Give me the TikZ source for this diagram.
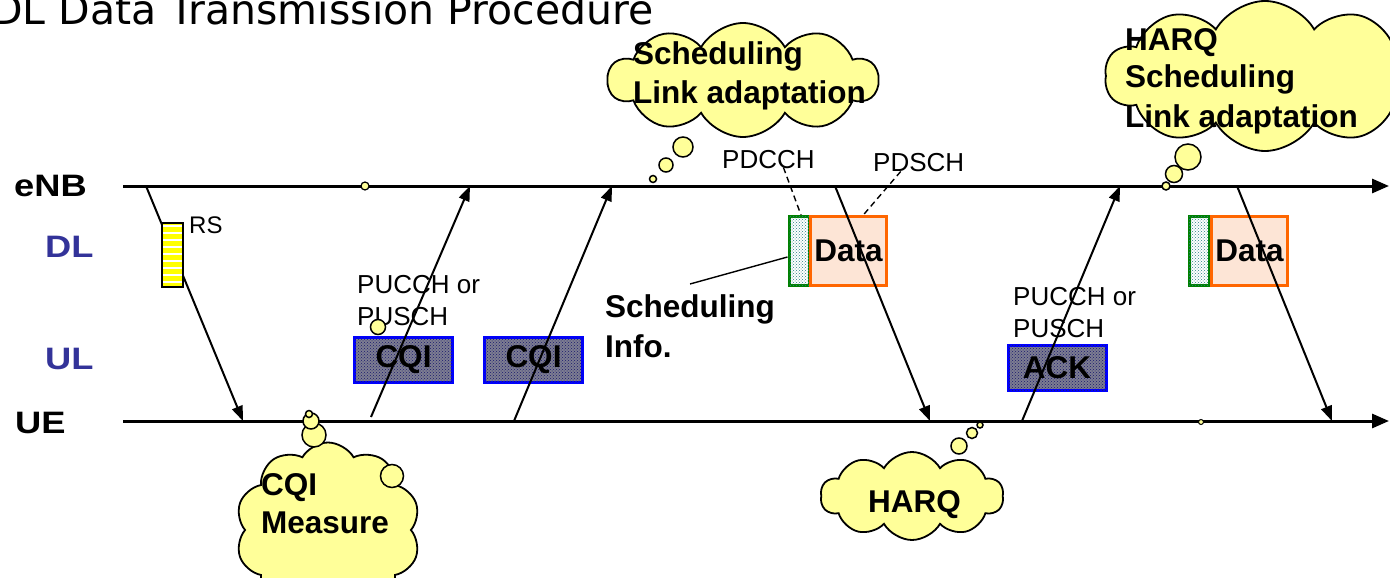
\documentclass[tikz,border=0pt]{standalone}
\usepackage{fontspec}
\setmainfont{Liberation Sans}
\newfontfamily\titlefont{DejaVu Sans}
\usetikzlibrary{arrows.meta,shapes.symbols,patterns}

\definecolor{thought}{RGB}{255,255,153}
\definecolor{chanblue}{RGB}{51,51,153}
\definecolor{cqiborder}{RGB}{0,0,255}
\definecolor{cqifill}{RGB}{125,125,145}
\definecolor{cqidot}{RGB}{25,25,110}
\definecolor{ctrlgreen}{RGB}{0,128,0}
\definecolor{ctrldot}{RGB}{40,130,130}
\definecolor{dataorange}{RGB}{255,102,0}
\definecolor{datafill}{RGB}{253,229,214}
\definecolor{rsyellow}{RGB}{255,255,0}

\begin{document}
\begin{tikzpicture}[x=1pt,y=-1pt,
  timeline/.style={line width=3pt,-{Triangle[length=17pt,width=14pt]}},
  msg/.style={line width=2pt,-{Triangle[length=15pt,width=11pt]}},
  pointer/.style={line width=1.4pt},
  dashedptr/.style={line width=1.4pt,dash pattern=on 6pt off 4pt},
  lbl/.style={font=\fontsize{26}{30}\selectfont,inner sep=0pt,anchor=base west},
  blbl/.style={font=\bfseries\fontsize{31.5}{38}\selectfont,inner sep=0pt,anchor=base west},
  side/.style={font=\bfseries\fontsize{31}{34}\selectfont,inner sep=0pt,anchor=base west},
  titletext/.style={font=\titlefont\fontsize{41}{48}\selectfont,inner sep=0pt,anchor=base west},
  boxtext/.style={font=\bfseries\fontsize{31.5}{36}\selectfont,inner sep=0pt},
  cqibox/.style={boxtext,draw=cqiborder,line width=3pt,fill=cqifill,
    postaction={pattern=crosshatch dots,pattern color=cqidot},
    minimum width=98pt,minimum height=45pt},
  ctrlbox/.style={draw=ctrlgreen,line width=3pt,fill=white,
    postaction={pattern=crosshatch dots,pattern color=ctrldot},
    minimum width=20pt,minimum height=69pt,inner sep=0pt},
  databox/.style={boxtext,draw=dataorange,line width=3.5pt,fill=datafill,
    minimum width=76pt,minimum height=69pt},
  rsbox/.style={draw=black,line width=1.5pt,fill=rsyellow,minimum width=21pt,
    minimum height=64pt,inner sep=0pt,
    path picture={\foreach \k in {0,...,8}{
      \draw[white,line width=2.6pt]
        ([yshift=-3pt-7*\k pt]path picture bounding box.north west) --
        ([yshift=-3pt-7*\k pt]path picture bounding box.north east);}}},
  thoughtcloud/.style={cloud,cloud puffs=10,cloud puff arc=120,cloud ignores aspect,
    draw=black,line width=1.8pt,fill=thought,inner sep=0pt},
  bubble/.style={circle,draw=black,line width=1.5pt,fill=thought,inner sep=0pt}
]
\clip (0,0) rectangle (1390,578);

% heading
\node[titletext] (title) at (-9,25) {DL Data Transmission Procedure};

% eNB and UE time lines
\coordinate (enbL) at (123,186); \coordinate (enbR) at (1389,186);
\coordinate (ueL) at (123,421);  \coordinate (ueR) at (1389,421);
\draw[timeline] (enbL) -- (enbR);
\draw[timeline] (ueL) -- (ueR);

% side labels
\node[side] (enb) at (14,196) {\scalebox{1.17}[1]{eNB}};
\node[side,text=chanblue] (dl) at (45,257) {\scalebox{1.17}[1]{DL}};
\node[side,text=chanblue] (ul) at (45,369) {\scalebox{1.17}[1]{UL}};
\node[side] (ue) at (15,433) {\scalebox{1.17}[1]{UE}};

% reference signal
\coordinate (rsTx) at (146,186); \coordinate (rsRx) at (243,421);
\draw[msg] (rsTx) -- (rsRx);
\node[rsbox] (rs) at (172.5,255) {};
\node[lbl,font=\fontsize{24}{28}\selectfont] (rslbl) at (189,233) {RS};

% uplink and downlink blocks
\node[cqibox] (cqiA) at (403.5,360) {CQI};
\node[cqibox] (cqiB) at (533.5,360) {CQI};
\node[cqibox] (ack) at (1057,368) {ACK};
\node[ctrlbox] (ctrlA) at (799,251) {};
\node[databox] (dataA) at (848.5,251) {Data};
\node[ctrlbox] (ctrlB) at (1199,251) {};
\node[databox] (dataB) at (1249.5,251) {Data};

% channel labels
\node[lbl] (pucA1) at (357,293) {PUCCH or};
\node[lbl] (pucA2) at (357,325) {PUSCH};
\node[lbl] (pucB1) at (1013,305) {PUCCH or};
\node[lbl] (pucB2) at (1013,337) {PUSCH};
\node[lbl] (pdcch) at (722,168) {PDCCH};
\node[lbl] (pdsch) at (873,171) {PDSCH};
\node[blbl] (schedA) at (605,317) {Scheduling};
\node[blbl] (schedB) at (605,357) {Info.};

\draw[dashedptr] ([xshift=15pt,yshift=1pt]pdcch.south) -- ([xshift=2pt]ctrlA.north);
\draw[dashedptr] ([xshift=-18pt]pdsch.south) -- ([xshift=15pt]dataA.north);
\draw[pointer] ([yshift=10pt]schedA.north) -- ([yshift=-6pt]ctrlA.west);

% messages
\coordinate (cqiTxA) at (371,417); \coordinate (cqiRxA) at (470,186);
\coordinate (cqiTxB) at (514,421); \coordinate (cqiRxB) at (612,186);
\coordinate (datTxA) at (835,186); \coordinate (datRxA) at (930,421);
\coordinate (ackTx) at (1022,421); \coordinate (ackRx) at (1120,186);
\coordinate (datTxB) at (1237,186); \coordinate (datRxB) at (1332,421);
\draw[msg] (cqiTxA) -- (cqiRxA);
\draw[msg] (cqiTxB) -- (cqiRxB);
\draw[msg] (datTxA) -- (datRxA);
\draw[msg] (ackTx) -- (ackRx);
\draw[msg] (datTxB) -- (datRxB);

% thought clouds
\node[thoughtcloud,minimum width=270pt,minimum height=114pt] (cloudSched) at (743,80) {};
\node[bubble,minimum size=20pt] (bSchedA) at (683,147) {};
\node[bubble,minimum size=14pt] (bSchedB) at (666,165) {};
\node[bubble,minimum size=7pt] (bSchedC) at (653,179) {};
\node[blbl] (tSchedA) at (633,65) {Scheduling};
\node[blbl] (tSchedB) at (633,103) {Link adaptation};

\node[thoughtcloud,minimum width=320pt,minimum height=150pt] (cloudHarqSched) at (1265,76) {};
\node[bubble,minimum size=26pt] (bHarqSchedA) at (1188,157) {};
\node[bubble,minimum size=17pt] (bHarqSchedB) at (1174,174) {};
\node[bubble,minimum size=8pt] (bHarqSchedC) at (1166,186) {};
\node[blbl] (tHarqSchedA) at (1125,51) {HARQ};
\node[blbl] (tHarqSchedB) at (1125,88) {Scheduling};
\node[blbl] (tHarqSchedC) at (1125,127) {Link adaptation};

\node[thoughtcloud,minimum width=185pt,minimum height=175pt] (cloudCqi) at (328,530) {};
\node[bubble,minimum size=24pt] (bCqiA) at (314,435) {};
\node[bubble,minimum size=16pt] (bCqiB) at (311,421) {};
\node[bubble,minimum size=7pt] (bCqiC) at (309,414) {};
\node[bubble,minimum size=23pt] (bCqiD) at (392,476) {};
\node[blbl] (tCqiA) at (261,495) {CQI};
\node[blbl] (tCqiB) at (261,533) {Measure};

\node[thoughtcloud,minimum width=183pt,minimum height=88pt] (cloudHarq) at (912,496) {};
\node[bubble,minimum size=16pt] (bHarqA) at (959,446) {};
\node[bubble,minimum size=11pt] (bHarqB) at (972,433) {};
\node[bubble,minimum size=6pt] (bHarqC) at (980,425) {};
\node[blbl] (tHarq) at (868,512) {HARQ};

% stray bubbles
\node[bubble,minimum size=8pt,line width=1.2pt] (dotA) at (365,186) {};
\node[bubble,minimum size=15pt] (dotB) at (378,327) {};
\node[bubble,minimum size=5pt,line width=1pt] (dotC) at (1201,422) {};
\end{tikzpicture}
\end{document}
